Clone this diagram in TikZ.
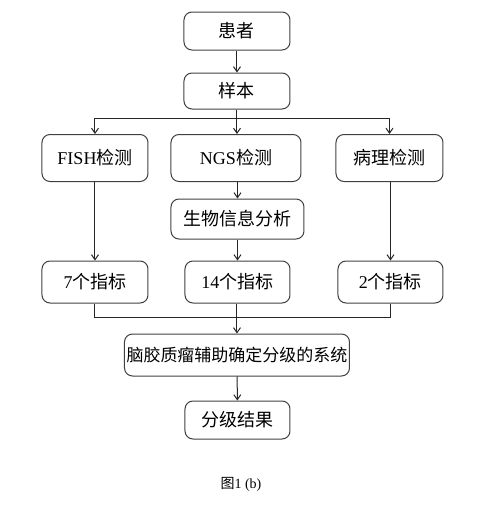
\documentclass[tikz,border=0pt]{standalone}
\usepackage{fontspec}
\setmainfont{Liberation Serif}
\newfontfamily\cjk{Noto Sans CJK SC}
\usetikzlibrary{arrows.meta}

\def\xunit{0.5pt}
\def\yunit{0.5pt}

\tikzset{
  stepbox/.style={draw=black!75, line width=0.5pt, rounded corners=4pt,
    minimum height=19pt, inner sep=1pt, font=\fontsize{9}{11}\selectfont},
  link/.style={line width=0.5pt, draw=black!85},
  arr/.style={link, -{Straight Barb[length=2.5pt, width=3.5pt]}}
}

\begin{document}
\begin{tikzpicture}[x=\xunit, y=\yunit]
\useasboundingbox (0,0) rectangle (492,516);

% ---- top: patient and sample ----
\node[stepbox, minimum width=53pt] (patient) at (237,485) {\cjk 患者};
\node[stepbox, minimum width=53pt, minimum height=18pt] (sample) at (237,425) {\cjk 样本};

% ---- three tests ----
\node[stepbox, minimum width=53pt, minimum height=23.5pt] (fish) at (95,358) {FISH{\cjk 检测}};
\node[stepbox, minimum width=65pt, minimum height=23.5pt] (ngs) at (236,358) {NGS{\cjk 检测}};
\node[stepbox, minimum width=53.5pt, minimum height=23.5pt] (patho) at (389.5,358) {\cjk 病理检测};
\node[stepbox, minimum width=66.5pt, minimum height=20pt] (bio) at (237.5,297) {\cjk 生物信息分析};

% ---- indicators ----
\node[stepbox, minimum width=53pt, minimum height=21pt] (ind7) at (95,234) {7{\cjk 个指标}};
\node[stepbox, minimum width=52.5pt, minimum height=21pt] (ind14) at (237.5,234) {14{\cjk 个指标}};
\node[stepbox, minimum width=52.5pt, minimum height=21pt] (ind2) at (390.5,234) {2{\cjk 个指标}};

% ---- grading system and result ----
\node[stepbox, minimum width=107pt, minimum height=21pt, font=\fontsize{8.5}{10}\selectfont]
  (system) at (237,161) {\cjk 脑胶质瘤辅助确定分级的系统};
\node[stepbox, minimum width=52.5pt] (result) at (237.5,96) {\cjk 分级结果};

\node[font=\fontsize{7}{9}\selectfont] (caption) at (241,32) {{\cjk 图}1 (b)};

% ---- links ----
\coordinate (split) at (237,398);
\coordinate (merge) at (237,199);
\draw[arr] (patient) -- (sample);
\draw[arr] (sample.south) -- (sample.south |- ngs.north);
\draw[arr] (split) -| (fish.north);
\draw[arr] (split) -| (patho.north);
\draw[arr] (ngs.south -| bio.north) -- (bio.north);
\draw[arr] (bio.south) -- (bio.south |- ind14.north);
\draw[arr] (fish) -- (ind7);
\draw[arr] (patho.south -| ind2.north) -- (ind2.north);
\draw[link] (ind7.south) |- (merge);
\draw[link] (ind2.south) |- (merge);
\draw[arr] (ind14.south -| system.north) -- (system.north);
\draw[arr] (system) -- (result);

\end{tikzpicture}
\end{document}
